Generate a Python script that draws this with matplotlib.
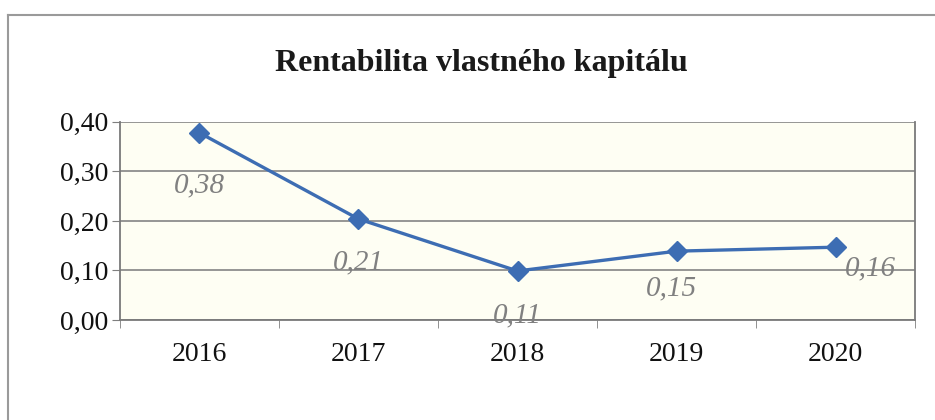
import matplotlib.pyplot as plt
from matplotlib.lines import Line2D
from matplotlib.ticker import FuncFormatter, FixedLocator

years = ['2016', '2017', '2018', '2019', '2020']
roe = [0.378, 0.204, 0.099, 0.139, 0.147]
labels = ['0,38', '0,21', '0,11', '0,15', '0,16']
label_offsets = [(0, -38), (0, -31), (0, -32), (-4, -27), (25, -15)]

plt.rcParams['font.family'] = ['Liberation Serif', 'DejaVu Serif']

fig = plt.figure(figsize=(9.35, 4.2), dpi=100)
ax = fig.add_axes([0.128, 0.238, 0.851, 0.472])
ax.set_facecolor('#fefef3')

x = list(range(len(years)))
ax.plot(x, roe, color='#3d6db3', linewidth=2.4, marker='D', markersize=10, zorder=3)

for xi, yi, lab, off in zip(x, roe, labels, label_offsets):
    ax.annotate(lab, (xi, yi), xytext=off, textcoords='offset points',
                ha='center', va='center', fontsize=21, style='italic', color='#808080')

ax.set_xlim(-0.5, len(years) - 0.5)
ax.set_ylim(0, 0.40)
ax.set_yticks([0, 0.1, 0.2, 0.3, 0.4])
ax.yaxis.set_major_formatter(FuncFormatter(lambda v, p: f'{v:.2f}'.replace('.', ',')))
ax.grid(axis='y', color='#7a7a7a', linewidth=1.1)
ax.set_axisbelow(True)

ax.set_xticks(x)
ax.set_xticklabels(years)
ax.xaxis.set_minor_locator(FixedLocator([i - 0.5 for i in range(len(years) + 1)]))
ax.tick_params(axis='x', which='major', length=0, pad=16, labelsize=20, labelcolor='#111111')
ax.tick_params(axis='x', which='minor', length=6, color='#7f7f7f')
ax.tick_params(axis='y', length=6, color='#7f7f7f', labelsize=20, pad=2, labelcolor='#111111')

for s in ['left', 'bottom', 'right']:
    ax.spines[s].set_color('#7a7a7a')
    ax.spines[s].set_linewidth(1.3)
ax.spines['top'].set_visible(False)

fig.text(0.515, 0.85, 'Rentabilita vlastného kapitálu', ha='center', va='center',
         fontsize=23, fontweight='bold', color='#1a1a1a')

# outer chart frame
fig.add_artist(Line2D([8 / 935, 8 / 935], [0, 1 - 15 / 420], color='#9a9a9a', linewidth=1.5))
fig.add_artist(Line2D([8 / 935, 1], [1 - 15 / 420, 1 - 15 / 420], color='#9a9a9a', linewidth=1.5))

plt.savefig('out.png', dpi=100)
